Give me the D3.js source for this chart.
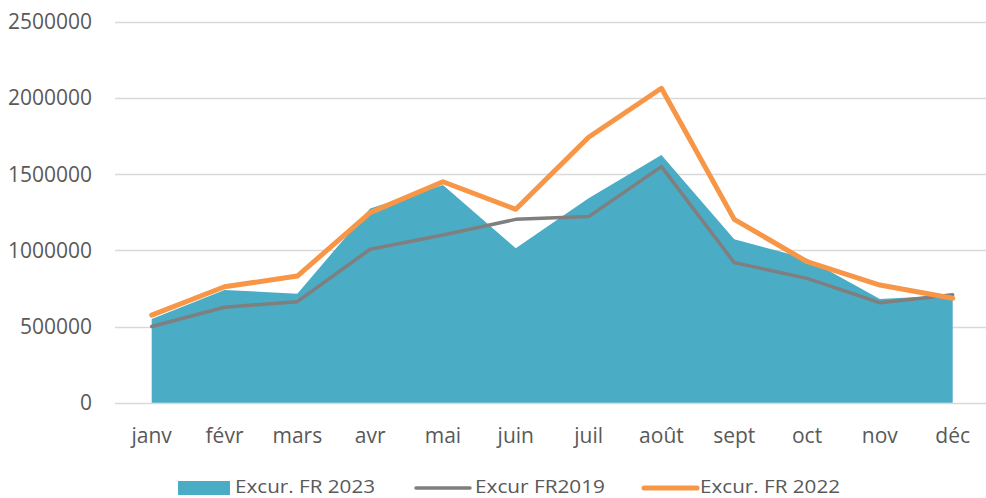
<!DOCTYPE html>
<html>
<head>
<meta charset="utf-8">
<script src="https://cdn.jsdelivr.net/npm/d3@7"></script>
<style>
  html, body { margin: 0; padding: 0; background: #fff; }
  svg { display: block; }
  text { font-family: "Open Sans", sans-serif; fill: #595959; }
</style>
</head>
<body>
<svg id="chart" width="986" height="498"></svg>
<script>
const months = ["janv","févr","mars","avr","mai","juin","juil","août","sept","oct","nov","déc"];
const fr2023 = [550000, 740000, 715000, 1275000, 1428000, 1013000, 1341000, 1625000, 1072000, 945000, 680000, 705000];
const fr2019 = [500000, 626000, 663000, 1007000, 1100000, 1203000, 1221000, 1549000, 919000, 816000, 656000, 709000];
const fr2022 = [575000, 761000, 831000, 1247000, 1450000, 1269000, 1742000, 2063000, 1203000, 925000, 772000, 685000];
const yTicks = [0, 500000, 1000000, 1500000, 2000000, 2500000];
const seriesNames = ["Excur. FR 2023", "Excur FR2019", "Excur. FR 2022"];
const colors = { area: "#4BACC6", gray: "#7F7F7F", orange: "#F79646" };

const svg = d3.select("#chart");
const x = d3.scalePoint().domain(months).range([151.7, 952.7]);
const y = d3.scaleLinear().domain([0, 2500000]).range([402.7, 21.7]);

// gridlines
svg.append("g").selectAll("line").data(yTicks).join("line")
  .attr("x1", 115).attr("x2", 986)
  .attr("y1", d => Math.round(y(d)) + 0.5).attr("y2", d => Math.round(y(d)) + 0.5)
  .attr("stroke", "#D9D9D9").attr("stroke-width", 1.3);

// y labels
svg.append("g").selectAll("text").data(yTicks).join("text")
  .attr("x", 92).attr("y", d => y(d) + 7.5)
  .attr("text-anchor", "end").attr("font-size", 21)
  .text(d => d3.format("d")(d));

// area
const area = d3.area().x((d, i) => x(months[i])).y0(y(0)).y1(d => y(d));
svg.append("path").datum(fr2023).attr("d", area).attr("fill", colors.area);

// lines
const line = d3.line().x((d, i) => x(months[i])).y(d => y(d));
svg.append("path").datum(fr2019).attr("d", line)
  .attr("fill", "none").attr("stroke", colors.gray).attr("stroke-width", 3.5)
  .attr("stroke-linejoin", "round").attr("stroke-linecap", "round");
svg.append("path").datum(fr2022).attr("d", line)
  .attr("fill", "none").attr("stroke", colors.orange).attr("stroke-width", 5)
  .attr("stroke-linejoin", "round").attr("stroke-linecap", "round");

// x labels
svg.append("g").selectAll("text").data(months).join("text")
  .attr("x", d => x(d)).attr("y", 443)
  .attr("text-anchor", "middle").attr("font-size", 21)
  .text(d => d);

// legend
const lg = svg.append("g");
lg.append("rect").attr("x", 178).attr("y", 481).attr("width", 52).attr("height", 14).attr("fill", colors.area);
lg.append("text").attr("x", 235).attr("y", 493).attr("font-size", 19)
  .attr("textLength", 140).attr("lengthAdjust", "spacingAndGlyphs").text(seriesNames[0]);
lg.append("line").attr("x1", 416).attr("x2", 470).attr("y1", 488).attr("y2", 488)
  .attr("stroke", colors.gray).attr("stroke-width", 3.5).attr("stroke-linecap", "round");
lg.append("text").attr("x", 475).attr("y", 493).attr("font-size", 19)
  .attr("textLength", 130).attr("lengthAdjust", "spacingAndGlyphs").text(seriesNames[1]);
lg.append("line").attr("x1", 644).attr("x2", 697).attr("y1", 488).attr("y2", 488)
  .attr("stroke", colors.orange).attr("stroke-width", 5).attr("stroke-linecap", "round");
lg.append("text").attr("x", 700).attr("y", 493).attr("font-size", 19)
  .attr("textLength", 140).attr("lengthAdjust", "spacingAndGlyphs").text(seriesNames[2]);
</script>
</body>
</html>
